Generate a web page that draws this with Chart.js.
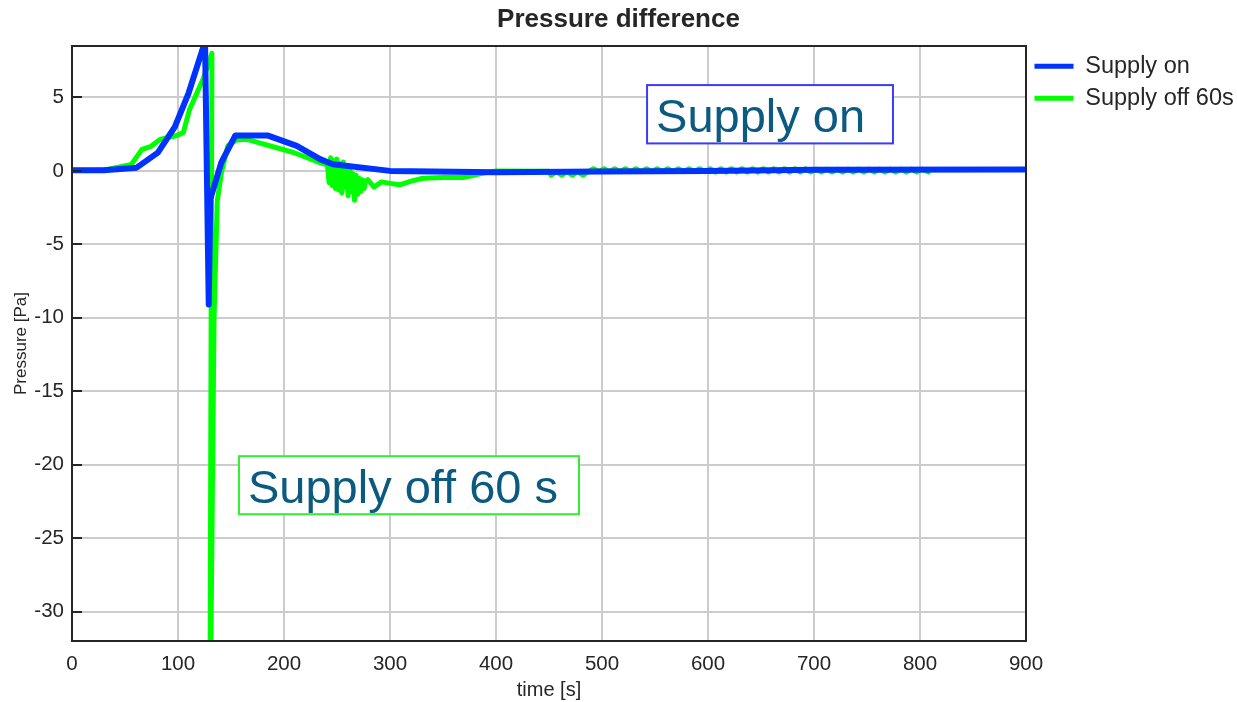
<!DOCTYPE html>
<html>
<head>
<meta charset="utf-8">
<title>Pressure difference</title>
<script src="https://cdn.jsdelivr.net/npm/chart.js@4/dist/chart.umd.min.js"></script>
<style>
  html, body { margin: 0; padding: 0; background: #fff; }
</style>
</head>
<body>
<canvas id="chart" width="1237" height="702"></canvas>
<script>
// values: time [s] and pressure [Pa]
const supplyOnTime = [0, 30, 61, 81, 97, 110, 125.5, 129, 130.5, 141, 154, 185, 212, 234, 246, 300, 400, 500, 600, 700, 900];
const supplyOnPa = [0.05, 0.05, 0.22, 1.24, 3.0, 5.3, 8.8, -9.1, -1.9, 0.6, 2.4, 2.4, 1.7, 0.8, 0.45, 0.0, -0.1, -0.05, 0.0, 0.08, 0.1];

const supplyOffTime = [
  0, 30, 56, 66, 74, 83, 97, 105, 111, 124, 132, 130, 134, 137, 141, 147, 155, 165, 209, 234,
  241, 242.5, 244, 245.5, 247, 248.5, 250, 251.5, 253, 254.5, 256, 257.5, 259, 260.5, 262, 263.5,
  265, 266.5, 268, 269.5, 271, 272.5, 274, 275.5, 277,
  279, 285, 292, 300, 309, 320, 331, 350, 369, 385, 400, 450,
  452, 457, 462, 467, 472, 477, 482, 487,
  492, 497, 502, 507, 512, 517, 522, 527, 532, 537, 542, 547, 552, 557, 562, 567, 572, 577, 582, 587, 592, 597,
  602, 607, 612, 617, 622, 627, 632, 637, 642, 647, 652, 657, 662, 667, 672, 677, 682, 687, 692, 697,
  702, 707, 712, 717, 722, 727, 732, 737, 742, 747, 752, 757, 762, 767, 772, 777, 782, 787, 792, 797, 802, 808
];
const supplyOffPa = [
  0.05, 0.05, 0.44, 1.46, 1.65, 2.14, 2.37, 2.6, 4.2, 6.3, 8.0, -40, -10, -2.1, -0.1, 1.7, 2.1, 2.15, 1.25, 0.56,
  0.4, -0.8, 0.9, -1.0, 0.7, -1.2, 0.8, -1.3, 0.5, -1.5, 0.6, -1.1, 0.2, -1.7, 0.3, -1.4,
  -0.2, -2.0, -0.3, -1.6, -0.5, -1.4, -0.6, -1.2, -0.7,
  -0.6, -1.1, -0.75, -0.85, -0.95, -0.7, -0.5, -0.45, -0.45, -0.2, 0.0, -0.02,
  -0.3, -0.05, -0.3, -0.05, -0.3, -0.05, -0.3, -0.05,
  0.15, -0.05, 0.15, -0.05, 0.15, -0.05, 0.15, -0.05, 0.15, -0.05, 0.15, -0.05, 0.15, -0.05, 0.15, -0.05, 0.15, -0.05, 0.15, -0.05, 0.15, -0.05,
  0.15, -0.08, 0.15, -0.08, 0.15, -0.08, 0.15, -0.08, 0.15, -0.08, 0.15, -0.08, 0.15, -0.08, 0.15, -0.08, 0.15, -0.08, 0.15, -0.08,
  0.12, -0.08, 0.12, -0.08, 0.12, -0.08, 0.12, -0.08, 0.12, -0.08, 0.12, -0.08, 0.12, -0.08, 0.12, -0.08, 0.12, -0.08, 0.12, -0.08, 0.12, -0.08
];

const seriesNames = ["Supply on", "Supply off 60s"];
const xTicks = [0, 100, 200, 300, 400, 500, 600, 700, 800, 900];
const yTicks = [-30, -25, -20, -15, -10, -5, 0, 5];

const FONT = "'Liberation Sans', Arial, Helvetica, sans-serif";
const INK = "#262626";

// text boxes drawn inside the axes (corners in data units)
const notes = [
  { text: "Supply on", x0: 542.5, x1: 774.5, y0: 5.84, y1: 1.87, border: "#3b3bff" },
  { text: "Supply off 60 s", x0: 157.5, x1: 478.3, y0: -19.42, y1: -23.37, border: "#33ee33" }
];

function toPoints(xs, ys) {
  return xs.map((x, i) => ({ x: x, y: ys[i] }));
}

const framePlugin = {
  id: "frame",
  afterDatasetsDraw(chart) {
    const ctx = chart.ctx;
    const a = chart.chartArea;
    const ys = chart.scales.y;
    ctx.save();
    // inner tick marks on the left
    ctx.strokeStyle = INK;
    ctx.lineWidth = 2;
    ys.ticks.forEach(t => {
      const py = Math.round(ys.getPixelForValue(t.value));
      ctx.beginPath();
      ctx.moveTo(a.left, py);
      ctx.lineTo(a.left + 10, py);
      ctx.stroke();
    });
    ctx.strokeRect(a.left, a.top, a.right - a.left, a.bottom - a.top);

    // annotation boxes
    const xs = chart.scales.x;
    notes.forEach(n => {
      const left = xs.getPixelForValue(n.x0);
      const right = xs.getPixelForValue(n.x1);
      const top = ys.getPixelForValue(n.y0);
      const bottom = ys.getPixelForValue(n.y1);
      ctx.fillStyle = "#ffffff";
      ctx.fillRect(left, top, right - left, bottom - top);
      ctx.strokeStyle = n.border;
      ctx.lineWidth = 2;
      ctx.strokeRect(left, top, right - left, bottom - top);
      ctx.fillStyle = "#0b5a80";
      ctx.font = "47px " + FONT;
      ctx.textAlign = "left";
      ctx.textBaseline = "alphabetic";
      ctx.fillText(n.text, left + 9, top + 47);
    });
    ctx.restore();
  }
};

new Chart(document.getElementById("chart"), {
  type: "line",
  data: {
    datasets: [
      {
        label: seriesNames[0],
        data: toPoints(supplyOnTime, supplyOnPa),
        borderColor: "#0033ff",
        backgroundColor: "#0033ff",
        borderWidth: 6,
        pointRadius: 0,
        tension: 0,
        borderJoinStyle: "round",
        borderCapStyle: "round",
        clip: 0
      },
      {
        label: seriesNames[1],
        data: toPoints(supplyOffTime, supplyOffPa),
        borderColor: "#00ff00",
        backgroundColor: "#00ff00",
        borderWidth: 5,
        pointRadius: 0,
        tension: 0,
        borderJoinStyle: "round",
        borderCapStyle: "round",
        clip: 0
      }
    ]
  },
  options: {
    responsive: false,
    animation: false,
    layout: { padding: 0 },
    plugins: {
      title: {
        display: true,
        text: "Pressure difference",
        color: INK,
        font: { family: FONT, size: 26, weight: "bold" },
        padding: { top: 4, bottom: 10.8 }
      },
      legend: {
        position: "right",
        align: "start",
        fullSize: false,
        maxWidth: 211,
        labels: {
          color: INK,
          font: { family: FONT, size: 23.5 },
          boxWidth: 39,
          boxHeight: 5,
          padding: 8.5,
          generateLabels: chart =>
            Chart.defaults.plugins.legend.labels.generateLabels(chart).map(l => ({
              ...l, fillStyle: l.strokeStyle, lineWidth: 0
            }))
        }
      },
      tooltip: { enabled: false }
    },
    scales: {
      x: {
        type: "linear",
        min: 0,
        max: 900,
        afterBuildTicks: s => { s.ticks = xTicks.map(v => ({ value: v })); },
        afterFit: s => { s.height = 61; },
        grid: { color: "#cccccc", lineWidth: 2, drawTicks: false },
        border: { display: false },
        ticks: { color: INK, font: { family: FONT, size: 20.5 }, padding: 11 },
        title: {
          display: true,
          text: "time [s]",
          color: INK,
          font: { family: FONT, size: 20 },
          padding: { top: 0, bottom: 0 }
        }
      },
      y: {
        type: "linear",
        min: -32,
        max: 8.5,
        afterBuildTicks: s => { s.ticks = yTicks.map(v => ({ value: v })); },
        afterFit: s => { s.width = 72; },
        grid: { color: "#cccccc", lineWidth: 2, drawTicks: false },
        border: { display: false },
        ticks: { color: INK, font: { family: FONT, size: 20.5 }, padding: 8 },
        title: {
          display: true,
          text: "Pressure [Pa]",
          color: INK,
          font: { family: FONT, size: 17 },
          padding: { top: 10.8, bottom: 0 }
        }
      }
    }
  },
  plugins: [framePlugin]
});
</script>
</body>
</html>
